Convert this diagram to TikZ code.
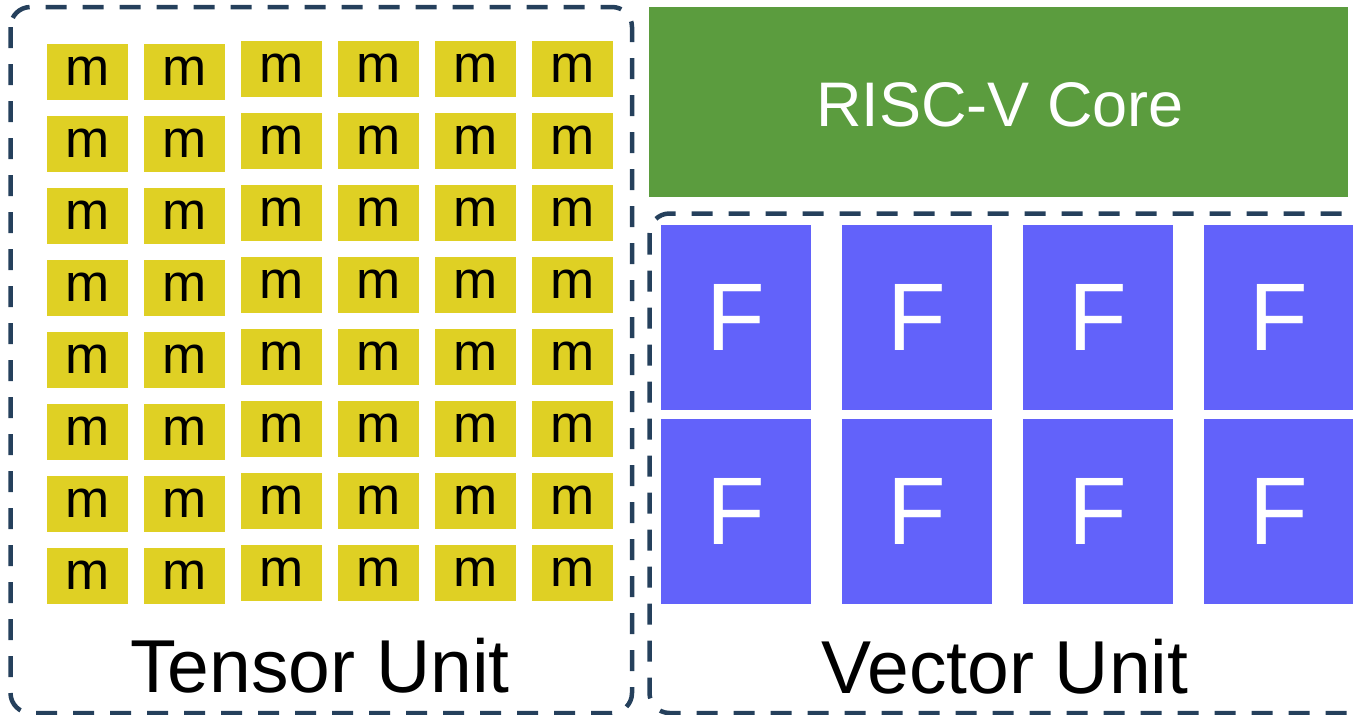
\documentclass[tikz,border=0pt]{standalone}
\usepackage{fontspec}
\setmainfont{Liberation Sans}
\definecolor{dashblue}{RGB}{37,64,92}
\definecolor{myellow}{RGB}{223,208,36}
\definecolor{rgreen}{RGB}{91,156,62}
\definecolor{fblue}{RGB}{98,98,250}
\tikzset{
  unitbox/.style={draw=dashblue, line width=4.5pt, dash pattern=on 21pt off 16pt, rounded corners=20pt},
  mbox/.style={fill=myellow, minimum width=81pt, minimum height=56pt, inner sep=0pt, text=black, font=\fontsize{53}{60}\selectfont},
  fbox/.style={fill=fblue, minimum width=150pt, minimum height=185pt, inner sep=0pt, text=white, font=\fontsize{96}{110}\selectfont},
  corebox/.style={fill=rgreen, minimum width=699pt, minimum height=190pt, inner sep=0pt},
  biglabel/.style={anchor=base, inner sep=0pt, font=\fontsize{75}{85}\selectfont},
}
\begin{document}
\begin{tikzpicture}[x=1pt, y=-1pt]
\useasboundingbox (0,0) rectangle (1353,715);
\clip (0,0) rectangle (1353,715);
% dashed unit frames
\draw[unitbox] (10.5,7) rectangle (632,713);
\draw[unitbox] (649.5,213.5) rectangle (1370,713);
% tensor unit multipliers
\foreach \r in {1,...,8}{
  \foreach \c in {1,2}{
    \node[mbox] (m-\r-\c) at ({87.5+97*(\c-1)},{71.5+72*(\r-1)}) {m};
  }
  \foreach \c in {3,...,6}{
    \node[mbox] (m-\r-\c) at ({87.5+97*(\c-1)},{68.5+72*(\r-1)}) {m};
  }
}
% RISC-V core
\node[corebox] (core) at (998.5,102) {};
\node[anchor=base, inner sep=0pt, text=white, font=\fontsize{63}{72}\selectfont] (corelabel) at (1000,126) {RISC-V Core};
% vector unit FPUs
\foreach \c in {1,...,4}{
  \node[fbox] (f-1-\c) at ({736+181*(\c-1)},317.5) {F};
  \node[fbox] (f-2-\c) at ({736+181*(\c-1)},511.5) {F};
}
% labels
\node[biglabel] (tlabel) at (320,692) {Tensor Unit};
\node[biglabel] (vlabel) at (1005,693) {Vector Unit};
\end{tikzpicture}
\end{document}
